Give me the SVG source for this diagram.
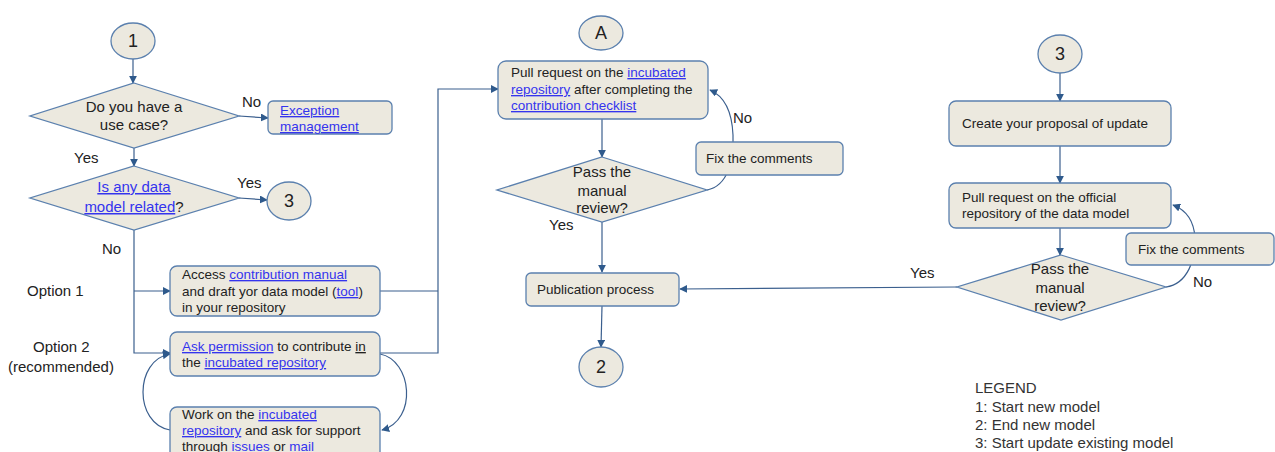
<svg xmlns="http://www.w3.org/2000/svg" width="1275" height="452" viewBox="0 0 1275 452">
<style>
text{font-family:"Liberation Sans",Arial,sans-serif;fill:#222}
.t{font-size:13.5px}
.d{font-size:15px;text-anchor:middle}
.lbl{font-size:15px}
.num{font-size:18px;text-anchor:middle}
.lg{font-size:15px;fill:#333}
.l{fill:#3434ee;text-decoration:underline}
.dl{text-decoration:underline double #3434ee}
.n{fill:#ECE9DF;stroke:#5B80AE;stroke-width:1.3}
.c{fill:none;stroke:#3B5F8E;stroke-width:1.2}
</style>
<defs>
<marker id="ah" viewBox="0 0 10 10" refX="9" refY="5" markerWidth="8" markerHeight="8" markerUnits="userSpaceOnUse" orient="auto">
<path d="M0,0 L10,5 L0,10 z" fill="#2F5A8C"/>
</marker>
</defs>
<g id="connectors">
<path class="c" d="M133,58 V83" marker-end="url(#ah)"/>
<path class="c" d="M239,116 L268,118" marker-end="url(#ah)"/>
<path class="c" d="M134,148 V166" marker-end="url(#ah)"/>
<path class="c" d="M239,198 L267,200" marker-end="url(#ah)"/>
<path class="c" d="M134,230 V353 H170" marker-end="url(#ah)"/>
<path class="c" d="M134,291 H170" marker-end="url(#ah)"/>
<path class="c" d="M380,291 H438"/>
<path class="c" d="M380,353 H438 V89 H498" marker-end="url(#ah)"/>
<path class="c" d="M380,354 C412,360 418,420 382,430" marker-end="url(#ah)"/>
<path class="c" d="M170,430 C134,424 134,360 170,354" marker-end="url(#ah)"/>
<path class="c" d="M602,119 V157" marker-end="url(#ah)"/>
<path class="c" d="M707,190 C728,186 734,160 733,135 C732,112 724,96 710,90" marker-end="url(#ah)"/>
<path class="c" d="M602,222 V272" marker-end="url(#ah)"/>
<path class="c" d="M602,306 L601,347" marker-end="url(#ah)"/>
<path class="c" d="M957,287 L680,289" marker-end="url(#ah)"/>
<path class="c" d="M1060,73 V101" marker-end="url(#ah)"/>
<path class="c" d="M1060,146 V183" marker-end="url(#ah)"/>
<path class="c" d="M1060,228 V255" marker-end="url(#ah)"/>
<path class="c" d="M1166,287 C1188,284 1196,258 1195,238 C1194,220 1186,210 1173,205" marker-end="url(#ah)"/>
</g>
<g id="start1">
<ellipse class="n" cx="133" cy="41" rx="22" ry="18"/>
<text class="num" x="133" y="47">1</text>
</g>
<g id="q-usecase">
<polygon class="n" points="134,83 239,116 134,148 30,116"/>
<text class="d" x="134" y="112">Do you have a</text>
<text class="d" x="134" y="130">use case?</text>
</g>
<g id="exception">
<rect class="n" x="268" y="101" width="124" height="33" rx="5"/>
<text class="t" x="280" y="115"><tspan class="l">Exception</tspan></text>
<text class="t" x="280" y="131"><tspan class="l">management</tspan></text>
</g>
<g id="q-related">
<polygon class="n" points="134,166 239,198 134,230 30,198"/>
<text class="d" x="134" y="192"><tspan class="l">Is any data</tspan></text>
<text class="d" x="134" y="212"><tspan class="l">model related</tspan>?</text>
</g>
<g id="conn3a">
<ellipse class="n" cx="289" cy="201" rx="22" ry="19"/>
<text class="num" x="289" y="207">3</text>
</g>
<g id="access">
<rect class="n" x="170" y="266" width="210" height="50" rx="7"/>
<text class="t" x="182" y="279">Access <tspan class="l">contribution manual</tspan></text>
<text class="t" x="182" y="296">and draft yor data model (<tspan class="l">tool</tspan>)</text>
<text class="t" x="182" y="312">in your repository</text>
</g>
<g id="ask">
<rect class="n" x="170" y="332" width="210" height="44" rx="7"/>
<text class="t" x="182" y="351"><tspan class="l">Ask permission</tspan> to contribute <tspan class="dl">in</tspan></text>
<text class="t" x="182" y="367">the <tspan class="l">incubated repository</tspan></text>
</g>
<g id="work">
<rect class="n" x="170" y="407" width="210" height="60" rx="7"/>
<text class="t" x="182" y="419">Work on the <tspan class="l">incubated</tspan></text>
<text class="t" x="182" y="435"><tspan class="l">repository</tspan> and ask for support</text>
<text class="t" x="182" y="451">through <tspan class="l">issues</tspan> or <tspan class="l">mail</tspan></text>
</g>
<g id="labels">
<text class="lbl" x="242" y="107">No</text>
<text class="lbl" x="74" y="163">Yes</text>
<text class="lbl" x="237" y="188">Yes</text>
<text class="lbl" x="102" y="254">No</text>
<text class="lbl" x="27" y="296">Option 1</text>
<text class="lbl" x="33" y="352">Option 2</text>
<text class="lbl" x="8" y="372">(recommended)</text>
<text class="lbl" x="549" y="230">Yes</text>
<text class="lbl" x="733" y="123">No</text>
<text class="lbl" x="910" y="278">Yes</text>
<text class="lbl" x="1193" y="287">No</text>
</g>
<g id="connA">
<ellipse class="n" cx="601" cy="33" rx="22" ry="17"/>
<text class="num" x="601" y="39">A</text>
</g>
<g id="pr-incubated">
<rect class="n" x="498" y="61" width="210" height="58" rx="8"/>
<text class="t" x="511" y="77">Pull request on the <tspan class="l">incubated</tspan></text>
<text class="t" x="511" y="94"><tspan class="l">repository</tspan> after completing the</text>
<text class="t" x="511" y="110"><tspan class="l">contribution checklist</tspan></text>
</g>
<g id="q-review1">
<polygon class="n" points="602,157 707,190 602,222 497,190"/>
<text class="d" x="602" y="177">Pass the</text>
<text class="d" x="602" y="196">manual</text>
<text class="d" x="602" y="213">review?</text>
</g>
<g id="fix1">
<rect class="n" x="696" y="142" width="147" height="33" rx="5"/>
<text class="t" x="706" y="163">Fix the comments</text>
</g>
<g id="publication">
<rect class="n" x="526" y="273" width="153" height="33" rx="5"/>
<text class="t" x="537" y="294">Publication process</text>
</g>
<g id="end2">
<ellipse class="n" cx="601" cy="367" rx="22" ry="20"/>
<text class="num" x="601" y="373">2</text>
</g>
<g id="start3">
<ellipse class="n" cx="1060" cy="54" rx="22" ry="19"/>
<text class="num" x="1060" y="60">3</text>
</g>
<g id="create">
<rect class="n" x="949" y="101" width="222" height="45" rx="7"/>
<text class="t" x="962" y="128">Create your proposal of update</text>
</g>
<g id="pr-official">
<rect class="n" x="949" y="183" width="222" height="45" rx="7"/>
<text class="t" x="962" y="202">Pull request on the official</text>
<text class="t" x="962" y="218">repository of the data model</text>
</g>
<g id="q-review2">
<polygon class="n" points="1061,255 1166,287 1061,320 957,287"/>
<text class="d" x="1060" y="274">Pass the</text>
<text class="d" x="1060" y="293">manual</text>
<text class="d" x="1060" y="311">review?</text>
</g>
<g id="fix2">
<rect class="n" x="1126" y="233" width="148" height="32" rx="5"/>
<text class="t" x="1138" y="254">Fix the comments</text>
</g>
<g id="legend">
<text class="lg" x="975" y="393">LEGEND</text>
<text class="lg" x="975" y="412">1: Start new model</text>
<text class="lg" x="975" y="430">2: End new model</text>
<text class="lg" x="975" y="448">3: Start update existing model</text>
</g>
</svg>
